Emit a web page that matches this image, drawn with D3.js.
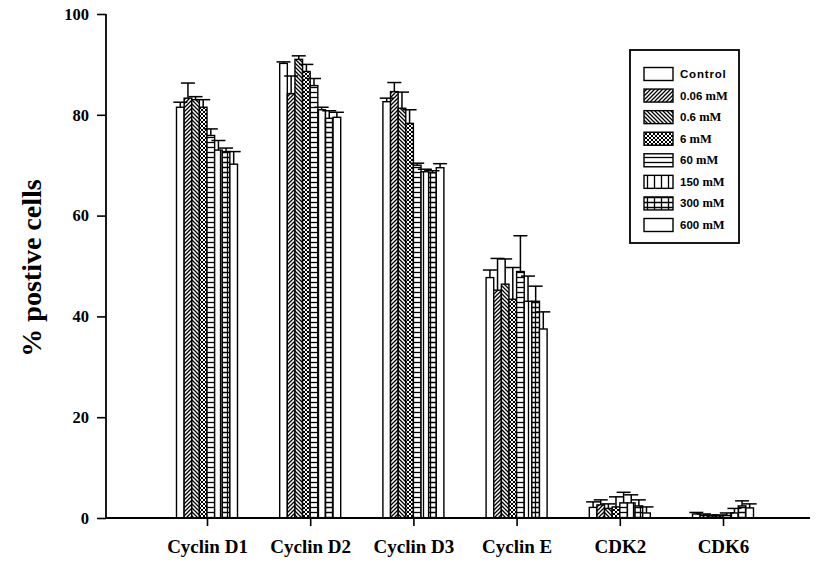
<!DOCTYPE html>
<html>
<head>
<meta charset="utf-8">
<script src="https://cdn.jsdelivr.net/npm/d3@7"></script>
<style>
  html, body { margin: 0; padding: 0; background: #fff; }
  svg { display: block; }
</style>
</head>
<body>
<svg id="chart" width="818" height="562"></svg>
<script>
const categories = ["Cyclin D1", "Cyclin D2", "Cyclin D3", "Cyclin E", "CDK2", "CDK6"];
const seriesNames = ["Control", "0.06", "0.6", "6", "60", "150", "300", "600"];
const seriesUnit = "mM";
const patternIds = ["none", "fwd", "back", "cross", "horiz", "vert", "grid", "none"];

const vControl = [81.5, 90.2, 82.6, 47.7, 2.1, 0.8];
const v006     = [83.3, 84.2, 84.6, 45.2, 2.6, 0.5];
const v06      = [83.0, 91.0, 81.3, 46.4, 1.9, 0.4];
const v6       = [81.5, 88.6, 78.3, 43.4, 2.2, 0.4];
const v60      = [75.9, 85.8, 70.0, 48.9, 3.0, 0.5];
const v150     = [73.0, 81.0, 68.7, 43.0, 3.0, 1.0];
const v300     = [72.7, 79.3, 68.5, 43.0, 2.4, 2.4];
const v600     = [70.2, 79.5, 69.5, 37.5, 1.0, 2.0];

const eControl = [1.0, 0.3, 0.7, 1.5, 1.1, 0.3];
const e006     = [3.0, 3.5, 1.8, 6.3, 1.0, 0.3];
const e06      = [0.6, 0.7, 3.2, 5.0, 0.9, 0.2];
const e6       = [1.5, 1.4, 2.7, 6.3, 2.0, 0.2];
const e60      = [1.3, 1.4, 0.4, 7.1, 2.1, 0.5];
const e150     = [1.9, 0.5, 0.5, 5.0, 1.6, 0.9];
const e300     = [0.7, 1.5, 0.4, 3.0, 1.2, 1.0];
const e600     = [2.5, 1.0, 0.8, 3.4, 1.2, 0.8];

const yTicks = [0, 20, 40, 60, 80, 100];

const values = [vControl, v006, v06, v6, v60, v150, v300, v600];
const errors = [eControl, e006, e06, e6, e60, e150, e300, e600];

const svg = d3.select("#chart");

// patterns
const defs = svg.append("defs");
function pat(id, w, h, draw) {
  const p = defs.append("pattern").attr("id", id).attr("patternUnits", "userSpaceOnUse")
    .attr("width", w).attr("height", h);
  p.append("rect").attr("width", w).attr("height", h).attr("fill", "#fff");
  draw(p);
}
pat("fwd", 4, 4, p => {
  p.append("path").attr("d", "M-1,1 l2,-2 M0,4 l4,-4 M3,5 l2,-2").attr("stroke", "#000").attr("stroke-width", 1.3);
});
pat("back", 4, 4, p => {
  p.append("path").attr("d", "M-1,3 l2,2 M0,0 l4,4 M3,-1 l2,2").attr("stroke", "#000").attr("stroke-width", 1.3);
});
pat("cross", 4, 4, p => {
  p.append("path").attr("d", "M-1,1 l2,-2 M0,4 l4,-4 M3,5 l2,-2 M-1,3 l2,2 M0,0 l4,4 M3,-1 l2,2").attr("stroke", "#000").attr("stroke-width", 1);
});
pat("horiz", 5, 5, p => {
  p.append("path").attr("d", "M0,2.5 h5").attr("stroke", "#000").attr("stroke-width", 1.3);
});
pat("vert", 7, 7, p => {
  p.append("path").attr("d", "M3.5,0 v7").attr("stroke", "#000").attr("stroke-width", 1.3);
});
pat("grid", 7, 5, p => {
  p.append("path").attr("d", "M3.5,0 v5 M0,2.5 h7").attr("stroke", "#000").attr("stroke-width", 1.3);
});
const fillOf = i => patternIds[i] === "none" ? "#fff" : `url(#${patternIds[i]})`;

// scales
const x = d3.scalePoint().domain(categories).range([207, 723]);
const y = d3.scaleLinear().domain([0, 100]).range([518, 14]);
const groupW = 61;
const xs = d3.scaleBand().domain(d3.range(seriesNames.length)).range([-groupW / 2, groupW / 2]).padding(0);

// bars
const data = [];
categories.forEach((c, ci) => {
  seriesNames.forEach((s, si) => {
    data.push({ c, si, v: values[si][ci], e: errors[si][ci] });
  });
});

const gBars = svg.append("g");
gBars.selectAll("rect").data(data).join("rect")
  .attr("x", d => x(d.c) + xs(d.si))
  .attr("y", d => y(d.v))
  .attr("width", xs.bandwidth())
  .attr("height", d => y(0) - y(d.v))
  .attr("fill", d => fillOf(d.si))
  .attr("stroke", "#000")
  .attr("stroke-width", 1.4);

const gErr = svg.append("g").attr("stroke", "#000").attr("stroke-width", 1.5);
data.forEach(d => {
  const cx = x(d.c) + xs(d.si) + xs.bandwidth() / 2;
  gErr.append("line").attr("x1", cx).attr("x2", cx).attr("y1", y(d.v)).attr("y2", y(d.v + d.e));
  gErr.append("line").attr("x1", cx - 7).attr("x2", cx + 7).attr("y1", y(d.v + d.e)).attr("y2", y(d.v + d.e));
});

// axes
const serif = "'Liberation Serif', 'Times New Roman', serif";
const yAxis = svg.append("g").attr("transform", "translate(106,0)")
  .call(d3.axisLeft(y).tickValues(yTicks).tickSize(9).tickPadding(8).tickFormat(d3.format("d")));
yAxis.select(".domain").attr("stroke-width", 1.8).attr("d", `M0,${y(100)}V${y(0)}`);
yAxis.selectAll(".tick line").attr("stroke-width", 1.6);
yAxis.selectAll("text").attr("font-family", serif)
  .attr("font-size", 16.5).attr("font-weight", "bold").attr("fill", "#000");

const xAxis = svg.append("g").attr("transform", `translate(0,${y(0)})`)
  .call(d3.axisBottom(x).tickSize(8).tickPadding(14));
xAxis.select(".domain").remove();
xAxis.append("line").attr("x1", 106).attr("x2", 810).attr("y1", 0).attr("y2", 0)
  .attr("stroke", "#000").attr("stroke-width", 1.8);
xAxis.selectAll(".tick line").attr("stroke-width", 1.6);
xAxis.selectAll("text").attr("font-family", serif)
  .attr("font-size", 19).attr("font-weight", "bold").attr("fill", "#000");

svg.append("text")
  .attr("transform", "translate(41,268) rotate(-90)")
  .attr("text-anchor", "middle")
  .attr("font-family", serif)
  .attr("font-size", 28).attr("font-weight", "bold")
  .text("% postive cells");

// legend
const lg = svg.append("g");
lg.append("rect").attr("x", 630).attr("y", 50).attr("width", 109).attr("height", 193)
  .attr("fill", "#fff").attr("stroke", "#000").attr("stroke-width", 1.8);
const ly = d3.scalePoint().domain(d3.range(seriesNames.length)).range([74, 225]);
seriesNames.forEach((s, i) => {
  const cy = ly(i);
  lg.append("rect").attr("x", 644).attr("y", cy - 6.5).attr("width", 29).attr("height", 13)
    .attr("fill", fillOf(i)).attr("stroke", "#000").attr("stroke-width", 1.4);
  const t = lg.append("text").attr("x", 680).attr("y", cy + 4)
    .attr("font-family", "'Liberation Sans', Arial, sans-serif")
    .attr("font-size", 11.5).attr("font-weight", "bold");
  if (i === 0) {
    t.text(s).attr("letter-spacing", 0.8);
  } else {
    t.append("tspan").text(s + " ");
    t.append("tspan").attr("font-family", serif).attr("font-size", 12.5).text(seriesUnit);
  }
});
</script>
</body>
</html>
